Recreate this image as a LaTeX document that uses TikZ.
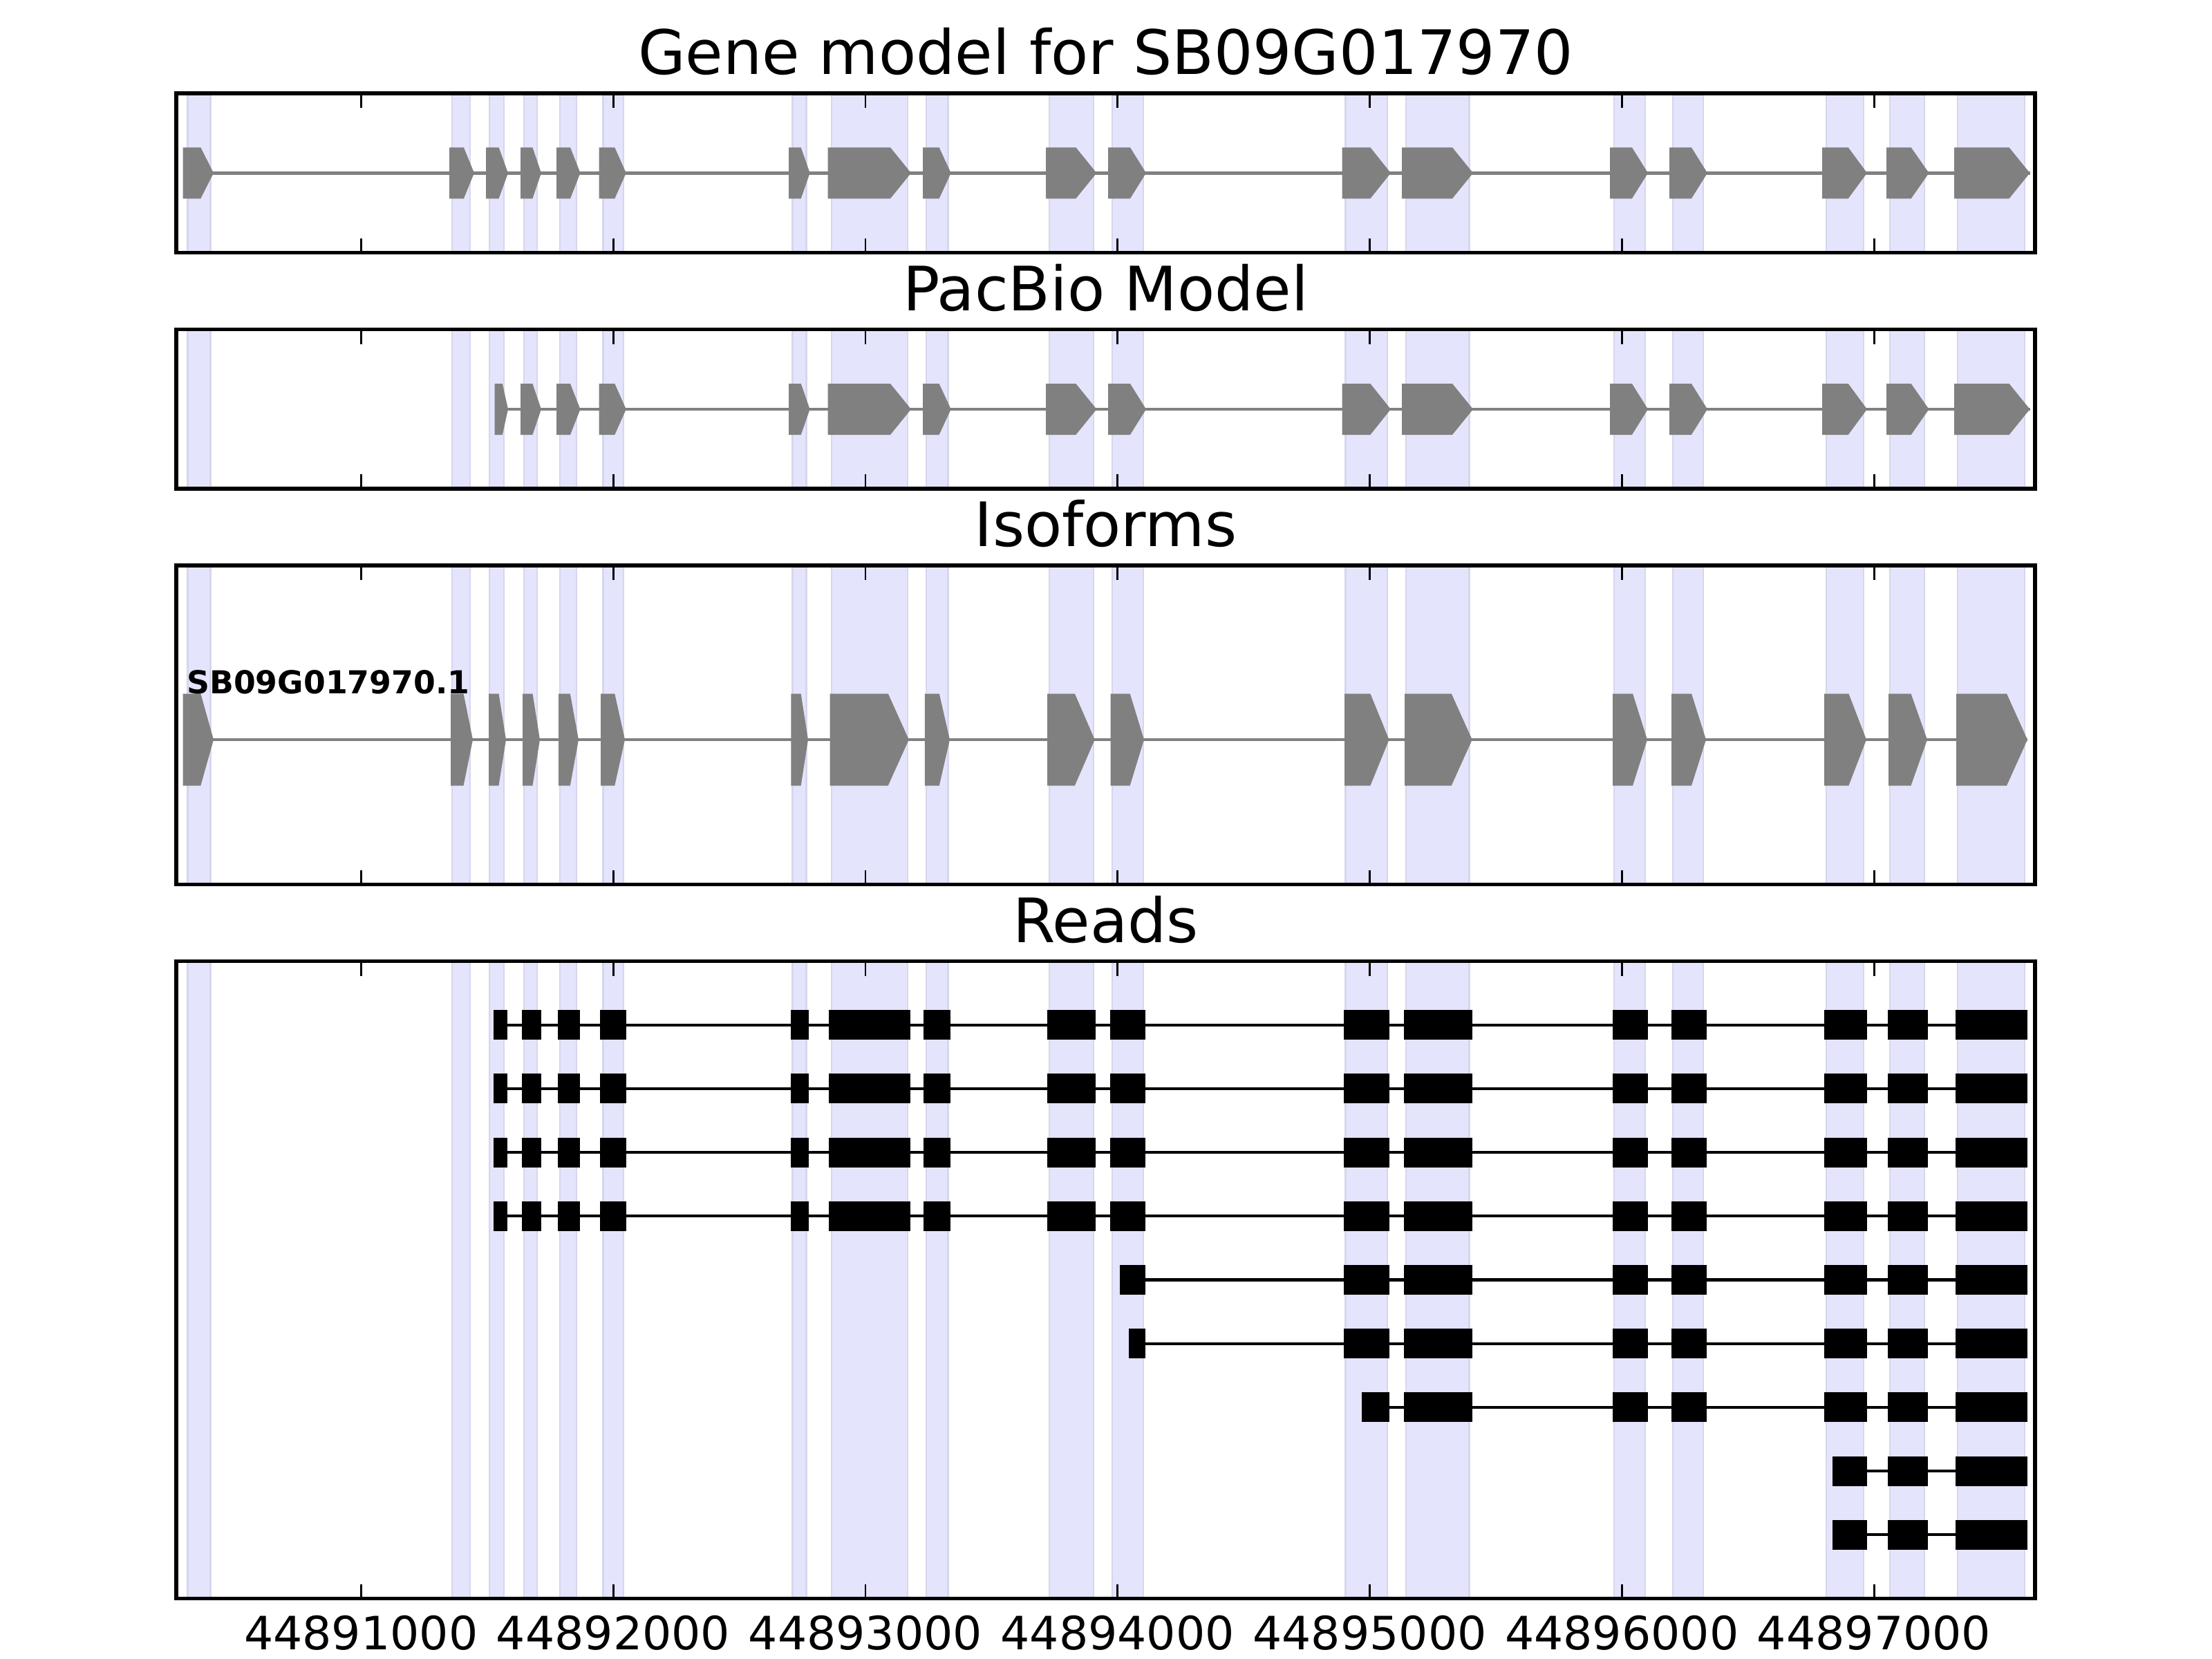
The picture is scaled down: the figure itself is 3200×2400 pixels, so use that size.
\documentclass[tikz,border=0pt]{standalone}
\usepackage{fontspec}
\setmainfont{DejaVu Sans}
\usetikzlibrary{positioning}
\definecolor{exongray}{RGB}{128,128,128}
\definecolor{bandfill}{RGB}{228,228,252}
\definecolor{bandedge}{RGB}{214,214,236}

% exon spans in picture units (1 unit = 1px of the 3200x2400 figure)
\def\bandlist{271.6/304.8,654/680,708/729,758/777,810/834,872.6/902,1146.6/1166.5,1203/1313,1340/1371.6,1518/1582,1609/1654,1946.6/2007,2034/2125.5,2335/2380,2420/2464,2642/2696,2734/2784,2832/2929}
\def\genelist{264.5/309,650/686,703/735,753/783,805/839.5,866.5/905.8,1141/1171.6,1197.7/1318,1335/1375.7,1513/1586.4,1603/1658,1941.7/2011.9,2028/2131,2329/2384,2415/2470,2636/2701,2729/2790.5,2827/2936.5}
\def\pacbiolist{715.5/735,753/783,805/839.5,866.5/905.8,1141/1171.6,1197.7/1318,1335/1375.7,1513/1586.4,1603/1658,1941.7/2011.9,2028/2131,2329/2384,2415/2470,2636/2701,2729/2790.5,2827/2936.5}
\def\isolist{264.5/309,652/684,707/732,756/781,808/837,869/904,1144.4/1169,1200.5/1314.8,1337.8/1374,1515/1583.7,1606.6/1655,1945/2009.5,2032/2129.7,2333/2383,2418/2468,2639/2700,2732/2788,2830/2933}
\def\readfull{714.5/733,756/782,808/838,869/905,1144.4/1169.7,1200/1316.6,1337/1374.8,1515.6/1584.5,1606.3/1656.8,1944.8/2009.5,2031.7/2129.7,2333/2383,2418/2468,2639/2700,2731.7/2788,2829.7/2932.4}
\def\readfive{1621/1656.8,1944.8/2009.5,2031.7/2129.7,2333/2383,2418/2468,2639/2700,2731.7/2788,2829.7/2932.4}
\def\readsix{1634/1656.8,1944.8/2009.5,2031.7/2129.7,2333/2383,2418/2468,2639/2700,2731.7/2788,2829.7/2932.4}
\def\readseven{1970.7/2009.5,2031.7/2129.7,2333/2383,2418/2468,2639/2700,2731.7/2788,2829.7/2932.4}
\def\readshort{2651/2700,2731.7/2788,2829.7/2932.4}

% panel: top, bottom
\newcommand\panelbox[2]{%
  \foreach \a/\b in \bandlist {\filldraw[band] (\a,#1) rectangle (\b,#2);}
}
\newcommand\panelframe[2]{%
  \draw[frame] (255,#1) rectangle (2944,#2);
  \foreach \k in {0,...,6} {
    \draw[tickmark] (522.3+364.8*\k,#1) -- ++(0,21);
    \draw[tickmark] (522.3+364.8*\k,#2) -- ++(0,-21);
  }
}
% transcript: list, start, end, centre y, half height
\newcommand\transcript[5]{%
  \draw[intron] (#2,#4) -- (#3,#4);
  \foreach \a/\b in #1 {
    \pgfmathsetmacro\tl{min(30,0.42*(\b-\a))}
    \fill[exon] (\a,#4-#5) -- (\b-\tl,#4-#5) -- (\b,#4) -- (\b-\tl,#4+#5) -- (\a,#4+#5) -- cycle;
  }
}
% read: list, start, end, centre y
\newcommand\readrow[4]{%
  \draw[readline] (#2,#4) -- (#3,#4);
  \foreach \a/\b in #1 {\filldraw[readbox] (\a,#4-21) rectangle (\b,#4+21);}
}

\begin{document}
\begin{tikzpicture}[x=0.01cm,y=-0.01cm,
    band/.style={fill=bandfill,draw=bandedge,line width=0.8pt},
    frame/.style={draw=black,line width=1.5pt},
    tickmark/.style={draw=black,line width=0.8pt},
    intron/.style={draw=exongray,line width=1.4pt},
    exon/.style={fill=exongray},
    readline/.style={draw=black,line width=1.2pt},
    readbox/.style={fill=black,draw=black,line width=0.3pt},
    paneltitle/.style={font=\fontsize{25.2}{30}\selectfont,anchor=base,inner sep=0pt},
    ticklabel/.style={font=\fontsize{18.9}{22}\selectfont,anchor=base,inner sep=0pt},
    isolabel/.style={font=\fontsize{13}{15}\selectfont\bfseries,anchor=base west,inner sep=0pt}
  ]
  \useasboundingbox[fill=white] (0,0) rectangle (3200,2400);

  % gene model
  \panelbox{135}{365.5}
  \transcript{\genelist}{264.5}{2936.5}{250.3}{37}
  \panelframe{135}{365.5}
  \node[paneltitle] (gene) at (1599.5,107.5) {Gene model for SB09G017970};

  % pacbio
  \panelbox{476.5}{707}
  \transcript{\pacbiolist}{715.5}{2936.5}{592}{37}
  \panelframe{476.5}{707}
  \node[paneltitle] (pacbio) at (1599.5,449) {PacBio Model};

  % isoforms
  \panelbox{818}{1279.5}
  \transcript{\isolist}{264.5}{2933}{1070}{66.5}
  \panelframe{818}{1279.5}
  \node[paneltitle] (iso) at (1599.5,790.5) {Isoforms};
  \node[isolabel] (isoname) at (269.6,1003) {SB09G017970.1};

  % reads
  \panelbox{1390.5}{2312.5}
  \foreach \r in {1,...,4} {\readrow{\readfull}{714.5}{2932.4}{1390.5+92.2*\r}}
  \readrow{\readfive}{1621}{2932.4}{1851.5}
  \readrow{\readsix}{1634}{2932.4}{1943.7}
  \readrow{\readseven}{1970.7}{2932.4}{2035.9}
  \readrow{\readshort}{2651}{2932.4}{2128.1}
  \readrow{\readshort}{2651}{2932.4}{2220.3}
  \panelframe{1390.5}{2312.5}
  \node[paneltitle] (reads) at (1599.5,1363) {Reads};

  \foreach \k in {1,...,7}
    \node[ticklabel] (tick\k) at (157.5+364.8*\k,2386.7) {4489\k000};
\end{tikzpicture}
\end{document}
